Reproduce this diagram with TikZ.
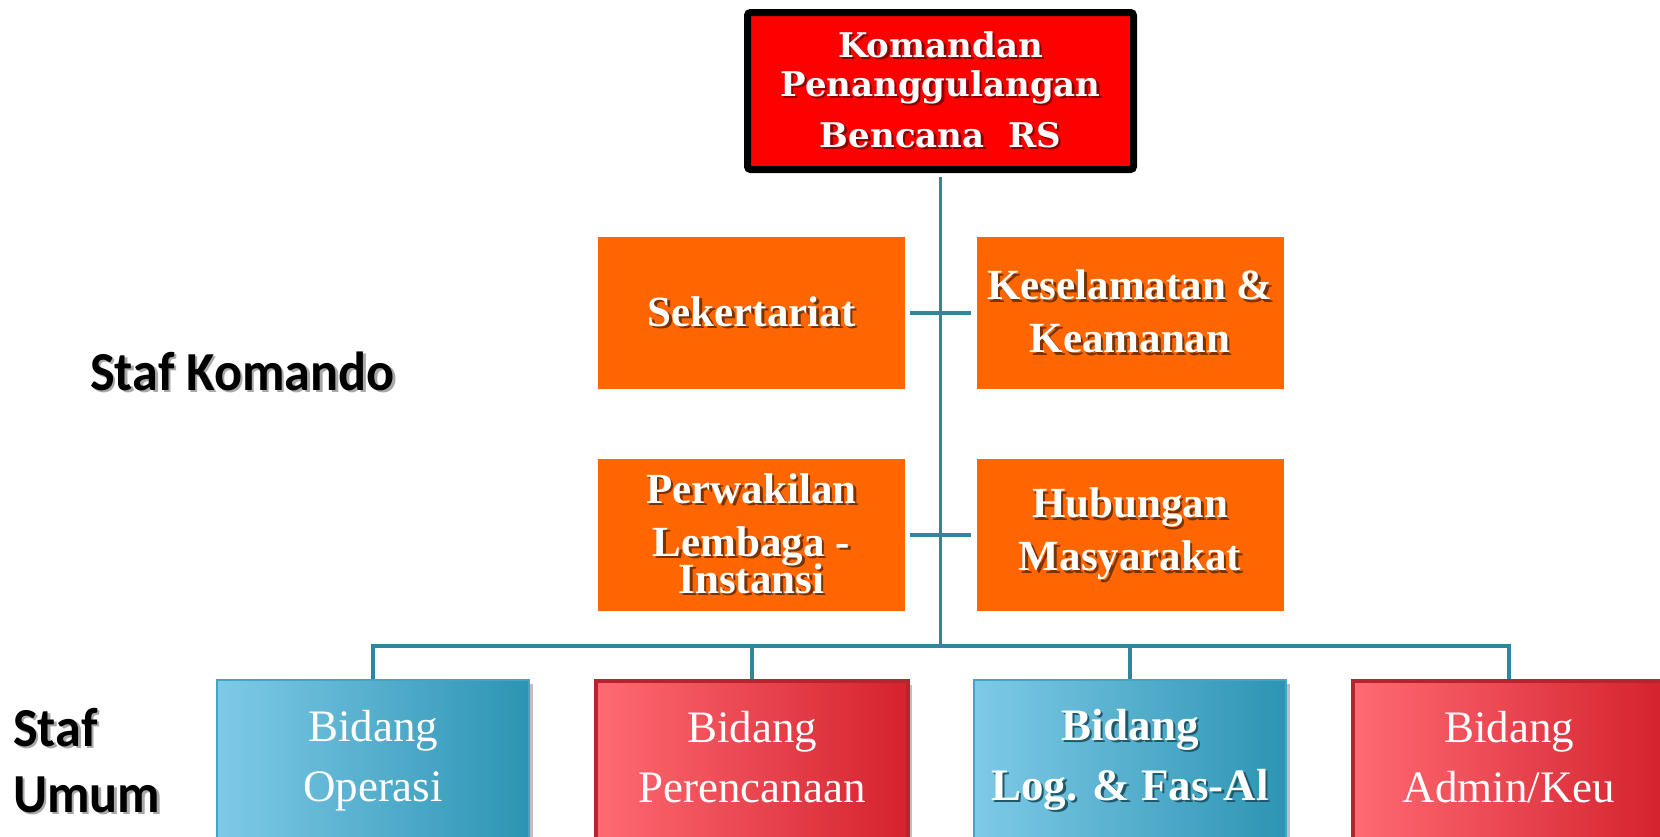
\documentclass[tikz,border=0pt]{standalone}
\usepackage{fontspec}
\setmainfont{Liberation Serif}
\newfontfamily\topfont{DejaVu Serif}
\newfontfamily\labfont{Carlito}[FakeStretch=0.95]
\usetikzlibrary{shadows}
\definecolor{lineblue}{HTML}{31859C}
\definecolor{topred}{HTML}{FF0000}
\definecolor{topshadow}{HTML}{8C0000}
\definecolor{orangebox}{HTML}{FF6600}
\definecolor{orshadow}{HTML}{7A3200}
\definecolor{blueL}{HTML}{7ECAE8}
\definecolor{blueR}{HTML}{2C94B2}
\definecolor{blueB}{HTML}{3FA6C6}
\definecolor{blueshadow}{HTML}{1E5A6C}
\definecolor{redL}{HTML}{FF6A72}
\definecolor{redR}{HTML}{D4222E}
\definecolor{redB}{HTML}{B8242E}
\definecolor{labshadow}{HTML}{A8A8A8}
\newcommand\shd[2]{\rlap{\kern2.5pt\raisebox{-2.5pt}{\color{#1}#2}}#2}
\begin{document}
\begin{tikzpicture}[x=1pt,y=-1pt,
  conn/.style={draw=lineblue,line width=3.5pt},
  topbox/.style={draw=black,fill=topred,line width=7pt,rounded corners=3pt,
    minimum width=386pt,minimum height=157pt,inner sep=0pt,align=center,text=white,
    font=\topfont\bfseries\fontsize{34}{39}\selectfont},
  orbox/.style={fill=orangebox,minimum width=307pt,minimum height=152pt,inner sep=0pt,
    align=center,text=white,font=\bfseries\fontsize{43}{53}\selectfont},
  bidang/.style={minimum width=312pt,minimum height=162pt,anchor=north,inner sep=0pt,
    align=center,text=white,font=\fontsize{45}{60}\selectfont,
    drop shadow={shadow xshift=4pt,shadow yshift=-4pt,opacity=0.25,fill=black}},
  bluebox/.style={bidang,left color=blueL,right color=blueR,draw=blueB,line width=1.5pt},
  redbox/.style={bidang,left color=redL,right color=redR,draw=redB,line width=4pt},
  lab/.style={inner sep=0pt,text=black,font=\labfont\bfseries\fontsize{55}{66}\selectfont}]
\useasboundingbox (0,0) rectangle (1660,836);
\clip (0,0) rectangle (1660,836);

% top
\node[topbox] (kom) at (940.5,91) {\shd{topshadow}{Komandan}\\ \shd{topshadow}{Penanggulangan}\\[12pt] \shd{topshadow}{Bencana\ \ RS}};

% staff command
\node[orbox] (sek) at (751.5,313) {\shd{orshadow}{Sekertariat}};
\node[orbox] (kes) at (1130,313) {\shd{orshadow}{Keselamatan \&}\\ \shd{orshadow}{Keamanan}};
\node[orbox] (pwk) at (751.5,535) {\shd{orshadow}{Perwakilan}\\ \shd{orshadow}{Lembaga -}\\[-16pt] \shd{orshadow}{Instansi}};
\node[orbox] (hub) at (1130,535) {\shd{orshadow}{Hubungan}\\ \shd{orshadow}{Masyarakat}};

% general staff
\node[bluebox] (ops) at (373,679) {Bidang\\ Operasi\vphantom{p}};
\node[redbox] (ren) at (752,679) {Bidang\\ Perencanaan\vphantom{p}};
\node[bluebox,font=\bfseries\fontsize{45}{60}\selectfont] (lgs) at (1130,679) {\shd{blueshadow}{Bidang}\\ \shd{blueshadow}{Log. \& Fas-Al}\vphantom{p}};
\node[redbox] (adm) at (1509,679) {Bidang\\ Admin/Keu\vphantom{p}};

% connectors
\coordinate (bus) at (940.5,646);
\draw[conn] ([yshift=-3.5pt]kom.south) -- (bus);
\draw[conn] (ops.north) -- (ops.north |- bus) -- (adm.north |- bus) -- (adm.north);
\draw[conn] (ren.north) -- (ren.north |- bus);
\draw[conn] (lgs.north) -- (lgs.north |- bus);
\draw[conn] ([xshift=5pt]sek.east) -- ([xshift=-5pt]kes.west);
\draw[conn] ([xshift=5pt]pwk.east) -- ([xshift=-5pt]hub.west);

% labels
\node[lab,anchor=base west] (sk) at (90,390) {\shd{labshadow}{Staf Komando}};
\node[lab,anchor=north west,align=left] (su) at (13,708) {\shd{labshadow}{Staf}\\ \shd{labshadow}{Umum}};
\end{tikzpicture}
\end{document}
